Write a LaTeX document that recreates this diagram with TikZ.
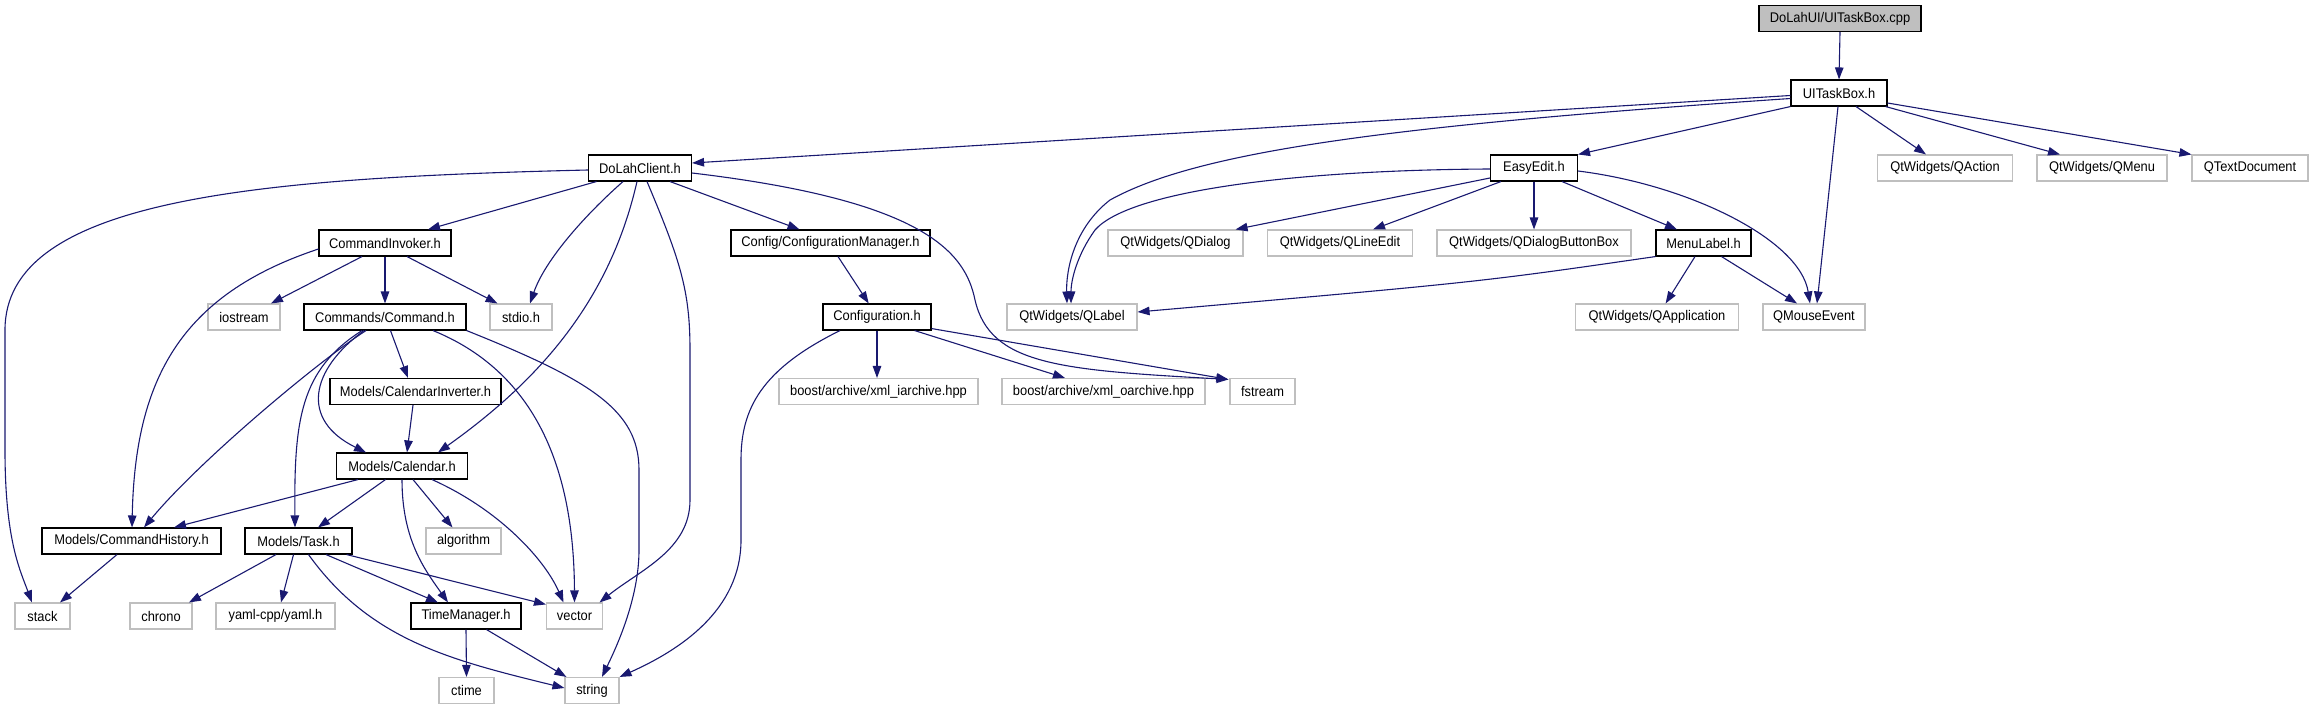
\documentclass[tikz,border=0pt]{standalone}
\usepackage{fontspec}
\setmainfont{Liberation Sans}[FakeStretch=0.92]
\usetikzlibrary{arrows.meta,calc}
\definecolor{edgec}{HTML}{191970}
\definecolor{gborder}{HTML}{BFBFBF}
\begin{document}
\begin{tikzpicture}[x=1pt,y=-1pt,
  incl/.style={draw=black, fill=white, line width=1.1pt, minimum height=26pt, inner sep=0pt, font=\fontsize{14}{16}\selectfont},
  extn/.style={incl, draw=gborder},
  rootn/.style={incl, fill=gborder},
  edg/.style={draw=edgec, line width=1.1pt, -{Triangle[length=12pt,width=8.5pt]}}]
\useasboundingbox (0,0) rectangle (2314,709);

% nodes
\node[rootn, minimum width=162pt] (root) at (1840,18.5) {DoLahUI/UITaskBox.cpp};
\node[incl, minimum width=96pt] (uitb) at (1839,93) {UITaskBox.h};
\node[incl, minimum width=103pt] (dolah) at (640,168) {DoLahClient.h};
\node[incl, minimum width=87pt] (easy) at (1534,168) {EasyEdit.h};
\node[extn, minimum width=135pt] (qaction) at (1945,168) {QtWidgets/QAction};
\node[extn, minimum width=130pt] (qmenu) at (2102,168) {QtWidgets/QMenu};
\node[extn, minimum width=116pt] (qtext) at (2250,168) {QTextDocument};
\node[incl, minimum width=132pt] (cinv) at (385,243) {CommandInvoker.h};
\node[incl, minimum width=199pt] (cfgm) at (830.5,243) {Config/ConfigurationManager.h};
\node[extn, minimum width=135pt] (qdialog) at (1175.5,243) {QtWidgets/QDialog};
\node[extn, minimum width=145pt] (qline) at (1340,243) {QtWidgets/QLineEdit};
\node[extn, minimum width=194pt] (qdbb) at (1534,243) {QtWidgets/QDialogButtonBox};
\node[incl, minimum width=95pt] (menul) at (1703.5,243) {MenuLabel.h};
\node[extn, minimum width=72pt] (iostream) at (244,317) {iostream};
\node[incl, minimum width=162pt] (cmd) at (385,317) {Commands/Command.h};
\node[extn, minimum width=62pt] (stdio) at (521,317) {stdio.h};
\node[incl, minimum width=108pt] (cfg) at (877,317) {Configuration.h};
\node[extn, minimum width=130pt] (qlabel) at (1072,317) {QtWidgets/QLabel};
\node[extn, minimum width=163pt] (qapp) at (1657,317) {QtWidgets/QApplication};
\node[extn, minimum width=102pt] (qmouse) at (1814,317) {QMouseEvent};
\node[incl, minimum width=171pt] (calinv) at (415.5,391.5) {Models/CalendarInverter.h};
\node[extn, minimum width=199pt] (xmli) at (878.5,391.5) {boost/archive/xml\_iarchive.hpp};
\node[extn, minimum width=203pt] (xmlo) at (1103.5,391.5) {boost/archive/xml\_oarchive.hpp};
\node[extn, minimum width=65pt] (fstream) at (1262.5,391.5) {fstream};
\node[incl, minimum width=131pt] (cal) at (402,466) {Models/Calendar.h};
\node[incl, minimum width=179pt] (chist) at (131.5,541) {Models/CommandHistory.h};
\node[incl, minimum width=107pt] (task) at (298.5,541) {Models/Task.h};
\node[extn, minimum width=75pt] (algo) at (463.5,541) {algorithm};
\node[extn, minimum width=55pt] (stack) at (42.5,616) {stack};
\node[extn, minimum width=62pt] (chrono) at (161,616) {chrono};
\node[extn, minimum width=119pt] (yaml) at (275.5,616) {yaml-cpp/yaml.h};
\node[incl, minimum width=110pt] (tm) at (466,616) {TimeManager.h};
\node[extn, minimum width=56pt] (vector) at (574.5,616) {vector};
\node[extn, minimum width=55pt] (ctime) at (466.5,690.5) {ctime};
\node[extn, minimum width=54pt] (string) at (592,690.5) {string};

% UITaskBox.cpp / UITaskBox.h
\draw[edg] (root.south) -- (uitb.north);
\draw[edg] ($(uitb.west)+(0,2.5)$) -- ($(dolah.east)+(0,-5)$);
\draw[edg] ($(uitb.west)+(0,5.5)$) .. controls (1400,125) and (1200,150) .. (1110,200)
  .. controls (1074,228) and (1066,270) .. ($(qlabel.north)+(-5,0)$);
\draw[edg] (uitb.south west) -- (easy.north east);
\draw[edg] ($(uitb.south)+(17,0)$) -- ($(qaction.north)+(-19,0)$);
\draw[edg] ($(uitb.south east)+(-2,0)$) -- ($(qmenu.north)+(-42,0)$);
\draw[edg] ($(uitb.east)+(0,10)$) -- (qtext.north west);
\draw[edg] ($(uitb.south)+(-1,0)$) -- ($(qmouse.north)+(3,0)$);

% EasyEdit.h
\draw[edg] ($(easy.west)+(0,1)$) .. controls (1300,170) and (1130,190) .. (1095,230)
  .. controls (1077,255) and (1071,280) .. ($(qlabel.north)+(-1,0)$);
\draw[edg] ($(easy.west)+(0,10)$) -- ($(qdialog.north east)+(-8,0)$);
\draw[edg] ($(easy.south west)+(11,0)$) -- ($(qline.north)+(33,0)$);
\draw[edg] (easy.south) -- (qdbb.north);
\draw[edg] ($(easy.south)+(28,0)$) -- ($(menul.north)+(-26.5,0)$);
\draw[edg] ($(easy.east)+(0,3)$) .. controls (1690,185) and (1800,240) .. ($(qmouse.north)+(-4,0)$);

% MenuLabel.h
\draw[edg] (menul.south west) .. controls (1480,282) .. ($(qlabel.east)+(0,-5)$);
\draw[edg] ($(menul.south)+(-8.5,0)$) -- ($(qapp.north)+(8.6,0)$);
\draw[edg] ($(menul.south)+(18,0)$) -- ($(qmouse.north)+(-17,0)$);

% DoLahClient.h
\draw[edg] ($(dolah.west)+(0,2)$) .. controls (250,178) and (5,200) .. (5,330) -- (5,450)
  .. controls (5,540) and (20,570) .. ($(stack.north)+(-10.5,0)$);
\draw[edg] ($(dolah.south west)+(8.5,0)$) -- ($(cinv.north)+(43,0)$);
\draw[edg] ($(dolah.south)+(-17,0)$) .. controls (585,215) and (545,260) .. ($(stdio.north)+(9,0)$);
\draw[edg] ($(dolah.south)+(-3,0)$) .. controls (610,300) and (540,380) .. ($(cal.north)+(36,0)$);
\draw[edg] ($(dolah.south)+(7,0)$) .. controls (680,260) and (690,290) .. (690,350) -- (690,500)
  .. controls (690,550) and (640,570) .. ($(vector.north)+(25,0)$);
\draw[edg] ($(dolah.south)+(30,0)$) -- ($(cfgm.north)+(-31,0)$);
\draw[edg] ($(dolah.east)+(0,5)$) .. controls (920,200) and (965,250) .. (975,300)
  .. controls (990,365) and (1060,370) .. ($(fstream.north west)+(-1,1.5)$);

% CommandInvoker.h
\draw[edg] ($(cinv.south)+(-23,0)$) -- ($(iostream.north)+(27,0)$);
\draw[edg] (cinv.south) -- (cmd.north);
\draw[edg] ($(cinv.south)+(22,0)$) -- ($(stdio.north)+(-23.5,0)$);
\draw[edg] ($(cinv.west)+(0,6)$) .. controls (180,295) and (135,380) .. ($(chist.north)+(0.5,0)$);

% Commands/Command.h
\draw[edg] ($(cmd.south)+(-19,0)$) .. controls (320,360) and (200,460) .. ($(chist.north)+(12.5,0)$);
\draw[edg] ($(cmd.south)+(-23,0)$) .. controls (300,370) and (294,420) .. ($(task.north)+(-3.5,0)$);
\draw[edg] ($(cmd.south)+(-21,0)$) .. controls (310,370) and (300,420) .. ($(cal.north)+(-36,0)$);
\draw[edg] ($(cmd.south)+(5.5,0)$) -- ($(calinv.north)+(-7.5,0)$);
\draw[edg] ($(cmd.south)+(48,0)$) .. controls (530,370) and (574,460) .. (vector.north);
\draw[edg] (cmd.south east) .. controls (590,380) and (639,410) .. (639,470) -- (639,550)
  .. controls (639,600) and (615,650) .. ($(string.north)+(10,0)$);

% Models/CalendarInverter.h
\draw[edg] ($(calinv.south)+(-2.5,0)$) -- ($(cal.north)+(5,0)$);

% Models/Calendar.h
\draw[edg] ($(cal.south)+(-44,0)$) -- ($(chist.north)+(42.5,0)$);
\draw[edg] ($(cal.south)+(-16.5,0)$) -- ($(task.north)+(19.5,0)$);
\draw[edg] (cal.south) .. controls (402,540) and (425,570) .. ($(tm.north)+(-18,0)$);
\draw[edg] ($(cal.south)+(11,0)$) -- ($(algo.north)+(-11,0)$);
\draw[edg] ($(cal.south)+(30,0)$) .. controls (500,510) and (545,560) .. ($(vector.north)+(-11,0)$);

% Models/Task.h
\draw[edg] ($(task.south)+(-22.5,0)$) -- ($(chrono.north)+(28,0)$);
\draw[edg] ($(task.south)+(-5,0)$) -- ($(yaml.north)+(5.5,0)$);
\draw[edg] ($(task.south)+(27.5,0)$) -- ($(tm.north)+(-28,0)$);
\draw[edg] ($(task.south east)+(-6,0)$) -- ($(vector.north west)+(0,2)$);
\draw[edg] ($(task.south)+(10,0)$) .. controls (370,640) and (450,660) .. ($(string.west)+(0,-2.5)$);

% TimeManager.h
\draw[edg] (tm.south) -- (ctime.north);
\draw[edg] ($(tm.south)+(20.5,0)$) -- ($(string.north west)+(2,0)$);

% Models/CommandHistory.h
\draw[edg] ($(chist.south)+(-14.5,0)$) -- ($(stack.north)+(17.5,0)$);

% Config
\draw[edg] ($(cfgm.south)+(7.5,0)$) -- ($(cfg.north)+(-8.3,0)$);
\draw[edg] (cfg.south) -- ($(xmli.north)+(-1.5,0)$);
\draw[edg] ($(cfg.south)+(37.6,0)$) -- ($(xmlo.north)+(-38.5,0)$);
\draw[edg] ($(cfg.south east)+(0,-2)$) -- ($(fstream.north west)+(-1,1.5)$);
\draw[edg] ($(cfg.south)+(-37,0)$) .. controls (760,370) and (741,410) .. (741,460) -- (741,540)
  .. controls (741,610) and (680,650) .. (string.north east);
\end{tikzpicture}
\end{document}
